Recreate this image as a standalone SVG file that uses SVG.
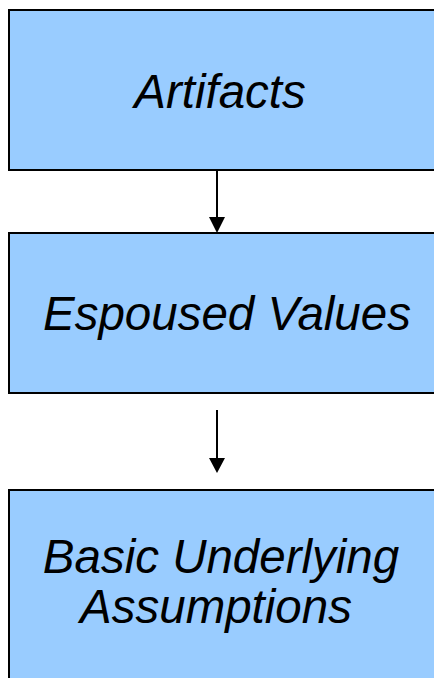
<svg xmlns="http://www.w3.org/2000/svg" width="434" height="678" viewBox="0 0 434 678">
<style>
.box{fill:#99CCFF;stroke:#000;stroke-width:2}
.lbl{font-family:"Liberation Sans",Arial,sans-serif;font-style:italic;font-size:47.5px;fill:#000;text-anchor:middle}
.conn line{stroke:#000;stroke-width:2}
.conn polygon{fill:#000}
</style>
<rect width="434" height="678" fill="#fff"/>
<g id="artifacts">
<rect class="box" x="9" y="10" width="440" height="160"/>
<text class="lbl" x="220" y="108">Artifacts</text>
</g>
<g id="espoused-values">
<rect class="box" x="9" y="233" width="440" height="160"/>
<text class="lbl" x="227" y="330">Espoused Values</text>
</g>
<g id="basic-assumptions">
<rect class="box" x="9" y="490" width="440" height="220"/>
<text class="lbl" x="221" y="573">Basic Underlying</text>
<text class="lbl" x="216" y="623">Assumptions</text>
</g>
<g id="connectors" class="conn">
<line x1="217" y1="171" x2="217" y2="219"/>
<polygon points="209,217 225,217 217,233"/>
<line x1="217" y1="410" x2="217" y2="460"/>
<polygon points="209,458 225,458 217,473"/>
</g>
</svg>
